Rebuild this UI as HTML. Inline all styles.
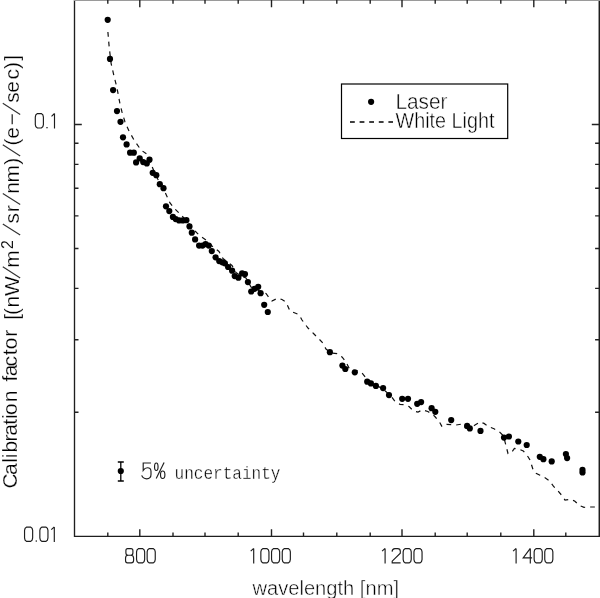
<!DOCTYPE html>
<html><head><meta charset="utf-8"><style>
html,body{margin:0;padding:0;background:#fff;}
body{width:600px;height:598px;overflow:hidden;}
svg{display:block;will-change:transform;}
</style></head><body>
<svg width="600" height="598" viewBox="0 0 600 598">
<path d="M74.5 0 V536.4 H599.2" fill="none" stroke="#1e1e1e" stroke-width="1.35"/><path d="M599.3 0 V537" stroke="#1e1e1e" stroke-width="1.5"/>
<rect x="74" y="0" width="526" height="1" fill="#9a9a9a"/>
<path d="M107.8 536.4v-3.8M107.8 0v3.8M139.8 536.4v-7.2M139.8 0v7.2M173.0 536.4v-3.8M173.0 0v3.8M205.0 536.4v-3.8M205.0 0v3.8M238.2 536.4v-3.8M238.2 0v3.8M271.5 536.4v-7.2M271.5 0v7.2M303.5 536.4v-3.8M303.5 0v3.8M336.8 536.4v-3.8M336.8 0v3.8M370.2 536.4v-3.8M370.2 0v3.8M402.0 536.4v-7.2M402.0 0v7.2M435.2 536.4v-3.8M435.2 0v3.8M467.2 536.4v-3.8M467.2 0v3.8M500.8 536.4v-3.8M500.8 0v3.8M533.8 536.4v-7.2M533.8 0v7.2M565.8 536.4v-3.8M565.8 0v3.8M74.5 412.3h4M599.1 412.3h-4M74.5 339.8h4M599.1 339.8h-4M74.5 288.4h4M599.1 288.4h-4M74.5 248.5h4M599.1 248.5h-4M74.5 215.9h4M599.1 215.9h-4M74.5 188.3h4M599.1 188.3h-4M74.5 164.4h4M599.1 164.4h-4M74.5 143.3h4M599.1 143.3h-4M74.5 124.5h7.3M599.1 124.5h-7.3" stroke="#222" stroke-width="1.4" fill="none"/>
<polyline points="107.9,32 109,45 111,63 114,76 117,88 120,104 122,112 125,122 129,131 134,140 141,150 148,155 151,164 156,176 160,183 165,192 170,203 175,209 180,214 185,219 195,231 200,236 206,240 212,246 219,251.5 223,258.5 232,265.5 236,272.5 241,276 246,278 251,287 256,289 261,292 266,293.5 269.5,298.2 272,301 277,298.5 282,299.5 286,302 290,311 295,313 299,314.6 302,320 308,328 314,334 318,338 322,342 326,349 331,353 337,353.6 342,357 346,362 350,370 358,371 362,373 366,378 374,384 383,389 391,396 395,401.5 400,404.3 405,404.8 409,406.5 413.5,411 418,412 422.7,409.8 427.8,411.5 432.8,414.3 435.3,417 439.5,422 442,426.6 446.7,424.4 452,424.7 456,425 461,424.2 465,427.6 471.8,426.8 475,425 480,422 484,423.4 489,426.8 494,428.8 499,431.4 503.5,436 508,453.5 511,453.2 514.4,448.5 519.4,449.3 523.3,451 527,455.2 530,460 533,469.5 536,473.2 540,475.2 545.4,477.9 549.4,480.8 553.4,486.2 558,491 562,495.6 565,500 570,499.3 574.6,501 579.5,505.6 584,507.3 589,507 598,507" fill="none" stroke="#111" stroke-width="1.2" stroke-dasharray="4.7 5"/>
<circle cx="107.7" cy="19.8" r="3.1"/>
<circle cx="110.0" cy="58.9" r="3.1"/>
<circle cx="113.1" cy="90.1" r="3.1"/>
<circle cx="117.0" cy="111.1" r="3.1"/>
<circle cx="120.5" cy="121.8" r="3.1"/>
<circle cx="123.0" cy="137.3" r="3.1"/>
<circle cx="126.6" cy="144.4" r="3.1"/>
<circle cx="130.1" cy="152.7" r="3.1"/>
<circle cx="133.8" cy="152.7" r="3.1"/>
<circle cx="136.1" cy="162.4" r="3.1"/>
<circle cx="139.7" cy="158.4" r="3.1"/>
<circle cx="143.2" cy="162.1" r="3.1"/>
<circle cx="146.8" cy="163.4" r="3.1"/>
<circle cx="149.5" cy="159.7" r="3.1"/>
<circle cx="152.7" cy="172.8" r="3.1"/>
<circle cx="156.3" cy="175.2" r="3.1"/>
<circle cx="159.8" cy="184.2" r="3.1"/>
<circle cx="163.5" cy="188.2" r="3.1"/>
<circle cx="166.0" cy="206.3" r="3.1"/>
<circle cx="169.3" cy="211.1" r="3.1"/>
<circle cx="172.9" cy="216.9" r="3.1"/>
<circle cx="175.7" cy="219.1" r="3.1"/>
<circle cx="179.1" cy="220.4" r="3.1"/>
<circle cx="182.8" cy="220.4" r="3.1"/>
<circle cx="186.4" cy="220.2" r="3.1"/>
<circle cx="189.5" cy="226.4" r="3.1"/>
<circle cx="191.8" cy="232.7" r="3.1"/>
<circle cx="195.1" cy="239.4" r="3.1"/>
<circle cx="199.1" cy="245.6" r="3.1"/>
<circle cx="202.5" cy="245.6" r="3.1"/>
<circle cx="205.6" cy="244.2" r="3.1"/>
<circle cx="208.8" cy="245.6" r="3.1"/>
<circle cx="211.8" cy="251.1" r="3.1"/>
<circle cx="215.6" cy="257.3" r="3.1"/>
<circle cx="219.2" cy="261.1" r="3.1"/>
<circle cx="222.4" cy="262.3" r="3.1"/>
<circle cx="224.9" cy="263.3" r="3.1"/>
<circle cx="228.1" cy="267.0" r="3.1"/>
<circle cx="232.1" cy="270.7" r="3.1"/>
<circle cx="234.7" cy="276.1" r="3.1"/>
<circle cx="238.4" cy="277.7" r="3.1"/>
<circle cx="242.1" cy="273.4" r="3.1"/>
<circle cx="245.0" cy="274.1" r="3.1"/>
<circle cx="247.9" cy="282.1" r="3.1"/>
<circle cx="251.2" cy="291.5" r="3.1"/>
<circle cx="254.5" cy="288.8" r="3.1"/>
<circle cx="258.2" cy="286.8" r="3.1"/>
<circle cx="260.6" cy="293.2" r="3.1"/>
<circle cx="264.2" cy="304.8" r="3.1"/>
<circle cx="267.8" cy="312.0" r="3.1"/>
<circle cx="329.9" cy="352.2" r="3.1"/>
<circle cx="342.4" cy="365.6" r="3.1"/>
<circle cx="345.3" cy="369.0" r="3.1"/>
<circle cx="354.8" cy="372.3" r="3.1"/>
<circle cx="367.2" cy="381.7" r="3.1"/>
<circle cx="370.9" cy="383.4" r="3.1"/>
<circle cx="375.9" cy="385.9" r="3.1"/>
<circle cx="383.1" cy="388.1" r="3.1"/>
<circle cx="389.0" cy="395.1" r="3.1"/>
<circle cx="402.2" cy="398.8" r="3.1"/>
<circle cx="408.0" cy="398.8" r="3.1"/>
<circle cx="417.2" cy="403.8" r="3.1"/>
<circle cx="421.1" cy="402.1" r="3.1"/>
<circle cx="431.6" cy="408.2" r="3.1"/>
<circle cx="435.3" cy="411.8" r="3.1"/>
<circle cx="451.2" cy="420.1" r="3.1"/>
<circle cx="467.1" cy="425.9" r="3.1"/>
<circle cx="469.8" cy="428.4" r="3.1"/>
<circle cx="480.5" cy="430.9" r="3.1"/>
<circle cx="504.0" cy="437.6" r="3.1"/>
<circle cx="508.9" cy="436.5" r="3.1"/>
<circle cx="518.3" cy="441.5" r="3.1"/>
<circle cx="526.7" cy="445.0" r="3.1"/>
<circle cx="539.8" cy="456.8" r="3.1"/>
<circle cx="543.4" cy="459.2" r="3.1"/>
<circle cx="551.7" cy="461.4" r="3.1"/>
<circle cx="565.9" cy="454.1" r="3.1"/>
<circle cx="567.1" cy="458.1" r="3.1"/>
<circle cx="582.5" cy="469.9" r="3.1"/>
<circle cx="582.5" cy="472.5" r="3.1"/>
<rect x="341.5" y="84" width="166.2" height="54.5" fill="#fff" stroke="#000" stroke-width="1.2"/>
<circle cx="371.1" cy="101.8" r="3.1"/>
<line x1="350" y1="122" x2="393" y2="122" stroke="#000" stroke-width="1.3" stroke-dasharray="4.8 4.8"/>
<path d="M120.8 462V481M117.8 462H123.8M117.8 481H123.8" stroke="#000" stroke-width="1.3" fill="none"/>
<circle cx="120.8" cy="471" r="3.1"/>
<g fill="none" stroke="#1c1c1c" stroke-width="1.15"><path transform="translate(125.0 548.0)" d="M2.6 0.55H6Q7.9 0.55 7.9 2.6V4.9Q7.9 7.2 5.6 7.2H3.1Q0.9 7.2 0.9 4.9V2.6Q0.9 0.55 2.6 0.55ZM3.1 7.2H5.6Q8.6 7.2 8.6 10V12.5Q8.6 14.85 6.3 14.85H2.4Q0.55 14.85 0.55 12.5V10Q0.55 7.2 3.1 7.2Z"/><path transform="translate(136.0 548.0)" d="M2.6 0.55H6.6L8.1 1.8L8.65 3.9V11.5L8.1 13.6L6.6 14.85H2.6L1.1 13.6L0.55 11.5V3.9L1.1 1.8Z"/><path transform="translate(146.6 548.0)" d="M2.6 0.55H6.6L8.1 1.8L8.65 3.9V11.5L8.1 13.6L6.6 14.85H2.6L1.1 13.6L0.55 11.5V3.9L1.1 1.8Z"/><path transform="translate(249.6 548.0)" d="M1.1 3.2L4.1 0.4M4.1 0.4V15.4"/><path transform="translate(260.3 548.0)" d="M2.6 0.55H6.6L8.1 1.8L8.65 3.9V11.5L8.1 13.6L6.6 14.85H2.6L1.1 13.6L0.55 11.5V3.9L1.1 1.8Z"/><path transform="translate(271.0 548.0)" d="M2.6 0.55H6.6L8.1 1.8L8.65 3.9V11.5L8.1 13.6L6.6 14.85H2.6L1.1 13.6L0.55 11.5V3.9L1.1 1.8Z"/><path transform="translate(281.7 548.0)" d="M2.6 0.55H6.6L8.1 1.8L8.65 3.9V11.5L8.1 13.6L6.6 14.85H2.6L1.1 13.6L0.55 11.5V3.9L1.1 1.8Z"/><path transform="translate(381.0 548.0)" d="M1.1 3.2L4.1 0.4M4.1 0.4V15.4"/><path transform="translate(391.7 548.0)" d="M0.4 3.6Q0.6 0.55 3.2 0.55H6Q8.6 0.55 8.6 3.2V5.2L0.5 13.2V14.85H8.9"/><path transform="translate(402.6 548.0)" d="M2.6 0.55H6.6L8.1 1.8L8.65 3.9V11.5L8.1 13.6L6.6 14.85H2.6L1.1 13.6L0.55 11.5V3.9L1.1 1.8Z"/><path transform="translate(413.4 548.0)" d="M2.6 0.55H6.6L8.1 1.8L8.65 3.9V11.5L8.1 13.6L6.6 14.85H2.6L1.1 13.6L0.55 11.5V3.9L1.1 1.8Z"/><path transform="translate(512.0 548.0)" d="M1.1 3.2L4.1 0.4M4.1 0.4V15.4"/><path transform="translate(522.7 548.0)" d="M7.6 0.4L0.5 9.9H9.4M7.6 0.4V15.4"/><path transform="translate(533.6 548.0)" d="M2.6 0.55H6.6L8.1 1.8L8.65 3.9V11.5L8.1 13.6L6.6 14.85H2.6L1.1 13.6L0.55 11.5V3.9L1.1 1.8Z"/><path transform="translate(544.2 548.0)" d="M2.6 0.55H6.6L8.1 1.8L8.65 3.9V11.5L8.1 13.6L6.6 14.85H2.6L1.1 13.6L0.55 11.5V3.9L1.1 1.8Z"/><path transform="translate(34.75 113.1)" d="M2.6 0.55H6.6L8.1 1.8L8.65 3.9V11.5L8.1 13.6L6.6 14.85H2.6L1.1 13.6L0.55 11.5V3.9L1.1 1.8Z"/><rect x="46.35" y="127.00" width="1.3" height="1.3" fill="#1c1c1c" stroke="none"/><path transform="translate(50.4 113.1)" d="M1.1 3.2L4.1 0.4M4.1 0.4V15.4"/><path transform="translate(24.0 526.5)" d="M2.6 0.55H6.6L8.1 1.8L8.65 3.9V11.5L8.1 13.6L6.6 14.85H2.6L1.1 13.6L0.55 11.5V3.9L1.1 1.8Z"/><rect x="35.65" y="540.40" width="1.3" height="1.3" fill="#1c1c1c" stroke="none"/><path transform="translate(39.3 526.5)" d="M2.6 0.55H6.6L8.1 1.8L8.65 3.9V11.5L8.1 13.6L6.6 14.85H2.6L1.1 13.6L0.55 11.5V3.9L1.1 1.8Z"/><path transform="translate(50.2 526.5)" d="M1.1 3.2L4.1 0.4M4.1 0.4V15.4"/><path d="M150.9 463H143.2V470.4Q145 467.7 147.4 467.7Q151 467.7 151 471.6V474.6Q151 478.8 146.7 478.8Q143 478.8 141.7 475.4"/><ellipse cx="156.3" cy="466.7" rx="1.75" ry="3.75"/><ellipse cx="162.7" cy="474.7" rx="2.2" ry="3.75"/><path d="M164.1 462.6L156.2 478.6"/></g>
<g fill="#000"><text x="252.5" y="594.5" font-size="20" text-anchor="start" textLength="146.5" lengthAdjust="spacingAndGlyphs" stroke="#fff" stroke-width="0.45" font-family='"Liberation Sans",sans-serif' >wavelength [nm]</text><text x="395.5" y="108.8" font-size="21.5" text-anchor="start" textLength="52" lengthAdjust="spacingAndGlyphs" stroke="#fff" stroke-width="0.45" font-family='"Liberation Sans",sans-serif' >Laser</text><text x="395.5" y="128.3" font-size="21.5" text-anchor="start" textLength="99" lengthAdjust="spacingAndGlyphs" stroke="#fff" stroke-width="0.45" font-family='"Liberation Sans",sans-serif' >White Light</text><text x="174.5" y="478.5" font-size="18" text-anchor="start" textLength="106" lengthAdjust="spacingAndGlyphs" stroke="#fff" stroke-width="0.35" font-family='"Liberation Mono",monospace' >uncertainty</text><g transform="translate(16.5 0) rotate(-90)"><text x="-481.0" y="0" font-size="21" text-anchor="middle" stroke="#fff" stroke-width="0.25" font-family='"Liberation Sans",sans-serif' >C</text><text x="-469.2" y="0" font-size="21" text-anchor="middle" stroke="#fff" stroke-width="0.25" font-family='"Liberation Sans",sans-serif' >a</text><text x="-460.4" y="0" font-size="21" text-anchor="middle" stroke="#fff" stroke-width="0.25" font-family='"Liberation Sans",sans-serif' >l</text><text x="-455.9" y="0" font-size="21" text-anchor="middle" stroke="#fff" stroke-width="0.25" font-family='"Liberation Sans",sans-serif' >i</text><text x="-446.6" y="0" font-size="21" text-anchor="middle" stroke="#fff" stroke-width="0.25" font-family='"Liberation Sans",sans-serif' >b</text><text x="-438.0" y="0" font-size="21" text-anchor="middle" stroke="#fff" stroke-width="0.25" font-family='"Liberation Sans",sans-serif' >r</text><text x="-429.8" y="0" font-size="21" text-anchor="middle" stroke="#fff" stroke-width="0.25" font-family='"Liberation Sans",sans-serif' >a</text><text x="-421.9" y="0" font-size="21" text-anchor="middle" stroke="#fff" stroke-width="0.25" font-family='"Liberation Sans",sans-serif' >t</text><text x="-416.6" y="0" font-size="21" text-anchor="middle" stroke="#fff" stroke-width="0.25" font-family='"Liberation Sans",sans-serif' >i</text><text x="-409.2" y="0" font-size="21" text-anchor="middle" stroke="#fff" stroke-width="0.25" font-family='"Liberation Sans",sans-serif' >o</text><text x="-396.5" y="0" font-size="21" text-anchor="middle" stroke="#fff" stroke-width="0.25" font-family='"Liberation Sans",sans-serif' >n</text><text x="-378.7" y="0" font-size="21" text-anchor="middle" stroke="#fff" stroke-width="0.25" font-family='"Liberation Sans",sans-serif' >f</text><text x="-370.5" y="0" font-size="21" text-anchor="middle" stroke="#fff" stroke-width="0.25" font-family='"Liberation Sans",sans-serif' >a</text><text x="-361.3" y="0" font-size="21" text-anchor="middle" stroke="#fff" stroke-width="0.25" font-family='"Liberation Sans",sans-serif' >c</text><text x="-352.4" y="0" font-size="21" text-anchor="middle" stroke="#fff" stroke-width="0.25" font-family='"Liberation Sans",sans-serif' >t</text><text x="-343.5" y="0" font-size="21" text-anchor="middle" stroke="#fff" stroke-width="0.25" font-family='"Liberation Sans",sans-serif' >o</text><text x="-333.2" y="0" font-size="21" text-anchor="middle" stroke="#fff" stroke-width="0.25" font-family='"Liberation Sans",sans-serif' >r</text><text x="-316.9" y="2.9" font-size="21" text-anchor="middle" stroke="#fff" stroke-width="0.25" font-family='"Liberation Sans",sans-serif' >[</text><text x="-311.4" y="2.9" font-size="21" text-anchor="middle" stroke="#fff" stroke-width="0.25" font-family='"Liberation Sans",sans-serif' >(</text><text x="-301.6" y="2.9" font-size="21" text-anchor="middle" stroke="#fff" stroke-width="0.25" font-family='"Liberation Sans",sans-serif' >n</text><text x="-286.2" y="2.9" font-size="21" text-anchor="middle" stroke="#fff" stroke-width="0.25" font-family='"Liberation Sans",sans-serif' >W</text><text x="-258.9" y="2.9" font-size="21" text-anchor="middle" stroke="#fff" stroke-width="0.25" font-family='"Liberation Sans",sans-serif' >m</text><text x="-218.2" y="2.9" font-size="21" text-anchor="middle" stroke="#fff" stroke-width="0.25" font-family='"Liberation Sans",sans-serif' >s</text><text x="-208.8" y="2.9" font-size="21" text-anchor="middle" stroke="#fff" stroke-width="0.25" font-family='"Liberation Sans",sans-serif' >r</text><text x="-188.0" y="2.9" font-size="21" text-anchor="middle" stroke="#fff" stroke-width="0.25" font-family='"Liberation Sans",sans-serif' >n</text><text x="-173.7" y="2.9" font-size="21" text-anchor="middle" stroke="#fff" stroke-width="0.25" font-family='"Liberation Sans",sans-serif' >m</text><text x="-161.3" y="2.9" font-size="21" text-anchor="middle" stroke="#fff" stroke-width="0.25" font-family='"Liberation Sans",sans-serif' >)</text><text x="-142.0" y="2.9" font-size="21" text-anchor="middle" stroke="#fff" stroke-width="0.25" font-family='"Liberation Sans",sans-serif' >(</text><text x="-132.8" y="2.9" font-size="21" text-anchor="middle" stroke="#fff" stroke-width="0.25" font-family='"Liberation Sans",sans-serif' >e</text><text x="-119.0" y="2.9" font-size="21" text-anchor="middle" stroke="#fff" stroke-width="0.25" font-family='"Liberation Sans",sans-serif' >&#8722;</text><text x="-97.6" y="2.9" font-size="21" text-anchor="middle" stroke="#fff" stroke-width="0.25" font-family='"Liberation Sans",sans-serif' >s</text><text x="-87.0" y="2.9" font-size="21" text-anchor="middle" stroke="#fff" stroke-width="0.25" font-family='"Liberation Sans",sans-serif' >e</text><text x="-74.3" y="2.9" font-size="21" text-anchor="middle" stroke="#fff" stroke-width="0.25" font-family='"Liberation Sans",sans-serif' >c</text><text x="-65.5" y="2.9" font-size="21" text-anchor="middle" stroke="#fff" stroke-width="0.25" font-family='"Liberation Sans",sans-serif' >)</text><text x="-57.9" y="2.9" font-size="21" text-anchor="middle" stroke="#fff" stroke-width="0.25" font-family='"Liberation Sans",sans-serif' >]</text><text x="-244.5" y="-3.6" font-size="16" text-anchor="middle" stroke="#fff" stroke-width="0.1" font-family='"Liberation Sans",sans-serif' >2</text></g><path d="M20.2 278.0L2.8 266.8M20.2 235.1L2.8 223.9M20.2 204.6L2.8 193.4M20.2 155.9L2.8 144.7M20.2 114.5L2.8 103.3" stroke="#333" stroke-width="1.15" fill="none"/></g>
</svg>
</body></html>
